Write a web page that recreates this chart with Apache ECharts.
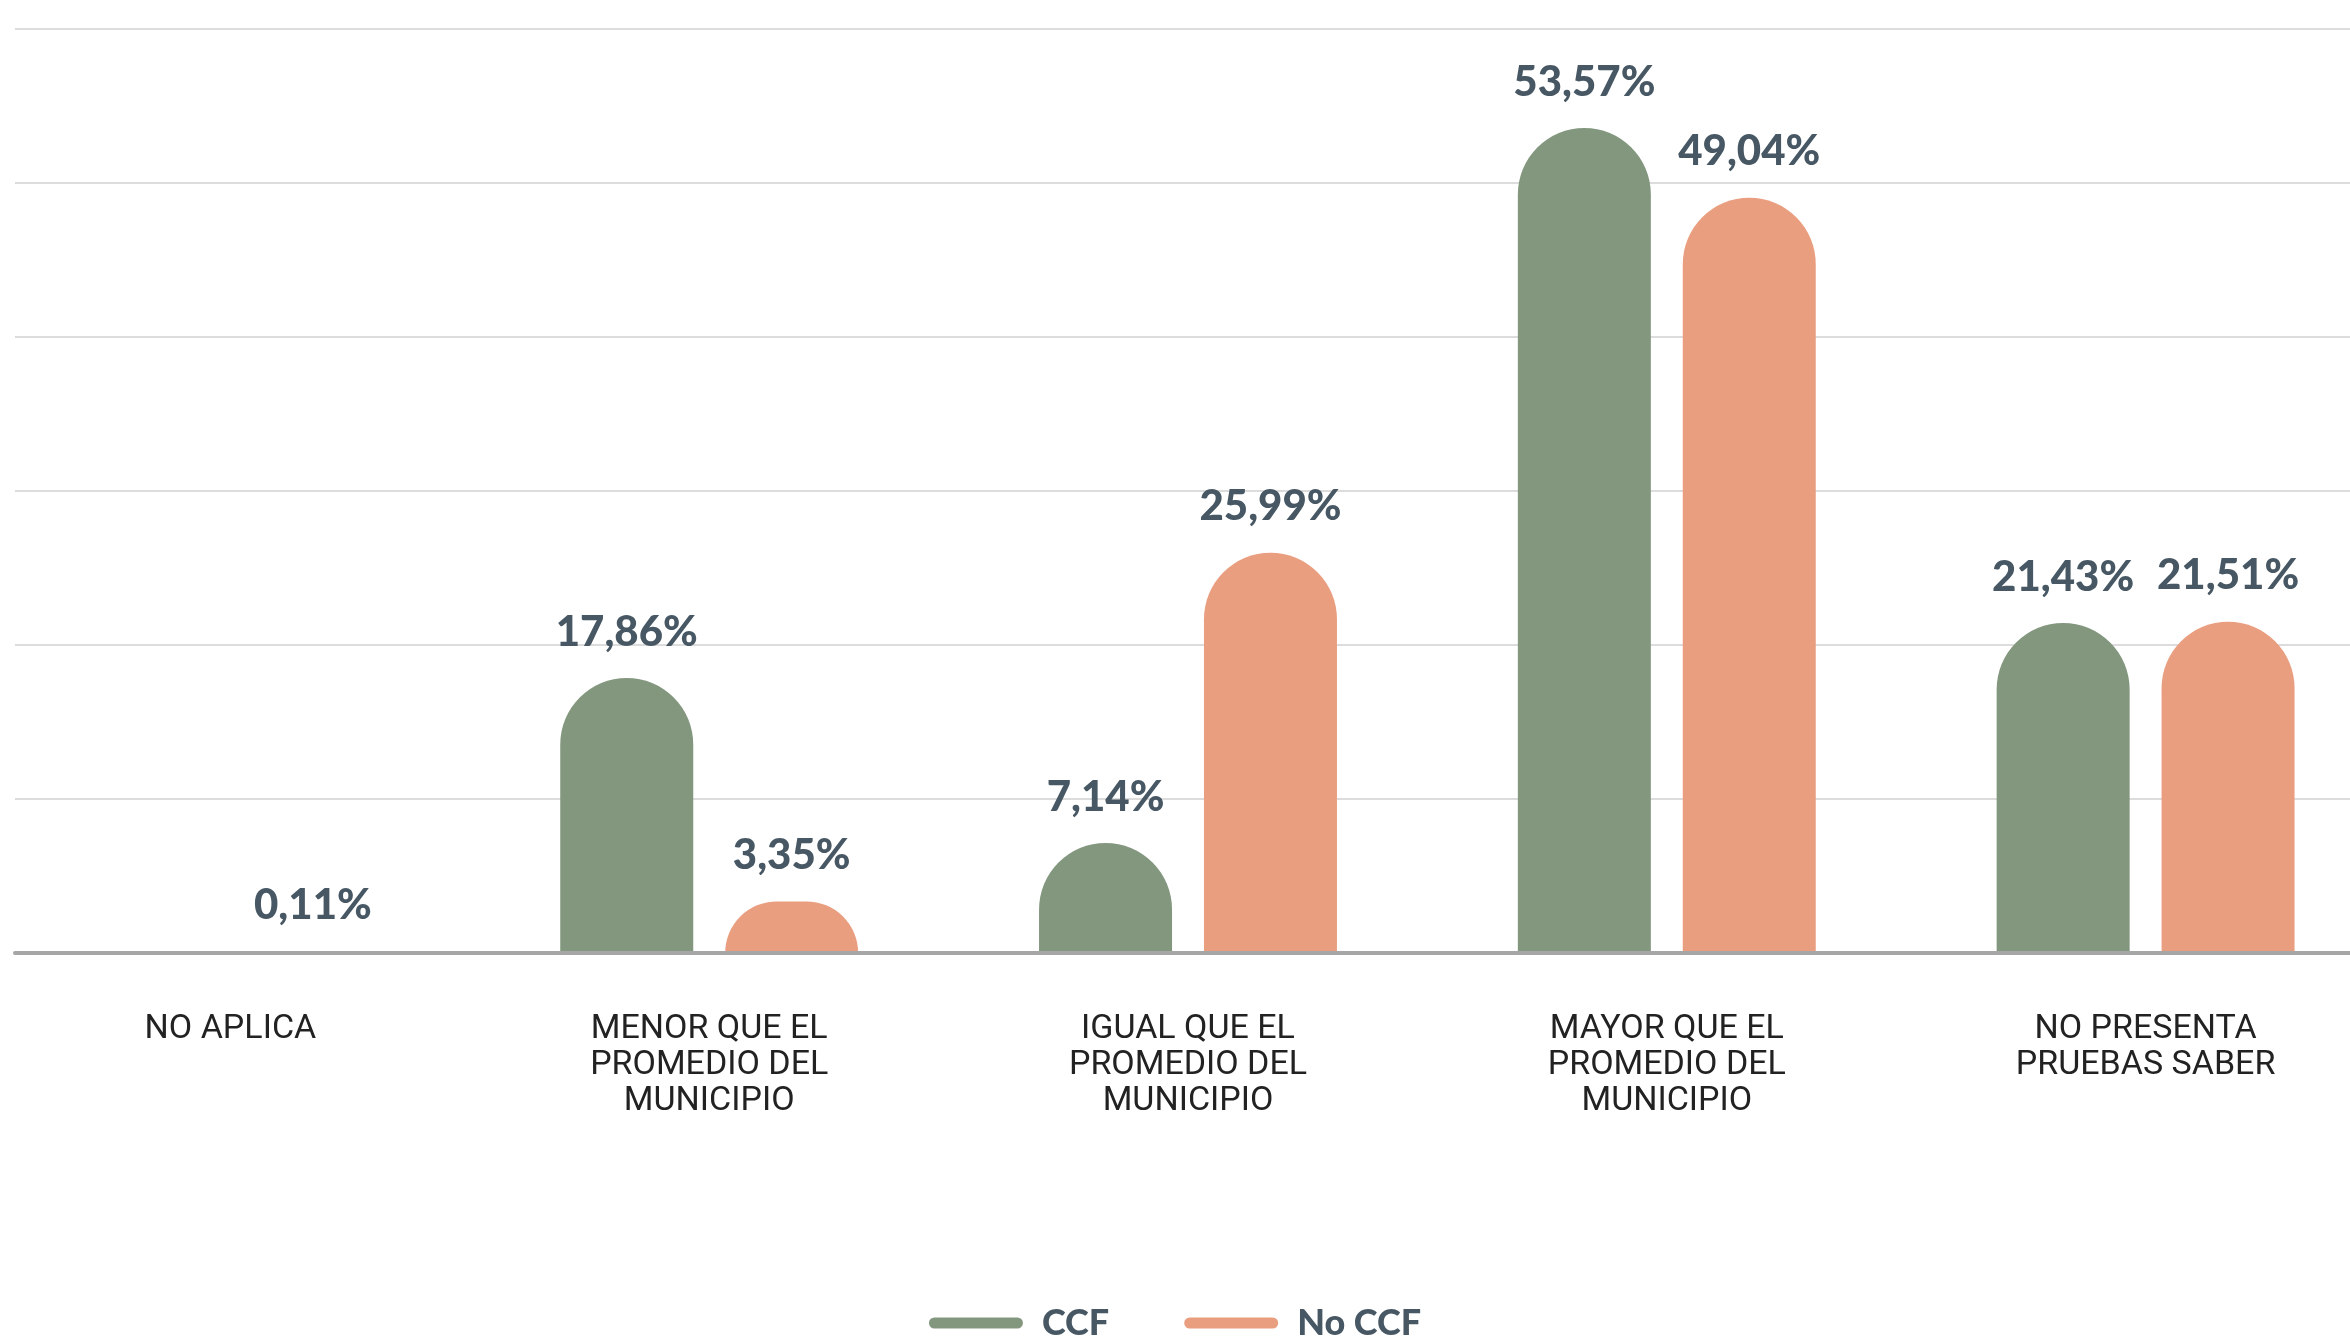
<!DOCTYPE html>
<html>
<head>
<meta charset="utf-8">
<script src="https://cdn.jsdelivr.net/npm/echarts@6/dist/echarts.min.js"></script>
<style>
  html, body { margin: 0; padding: 0; background: #fff; }
  #chart { width: 2350px; height: 1339px; }
</style>
</head>
<body>
<div id="chart"></div>
<script>
// datos del gráfico
const categorias = [
  'NO APLICA',
  'MENOR QUE EL\nPROMEDIO DEL\nMUNICIPIO',
  'IGUAL QUE EL\nPROMEDIO DEL\nMUNICIPIO',
  'MAYOR QUE EL\nPROMEDIO DEL\nMUNICIPIO',
  'NO PRESENTA\nPRUEBAS SABER'
]
const ccf = [0, 17.86, 7.14, 53.57, 21.43]
const noCcf = [0.11, 3.35, 25.99, 49.04, 21.51]
const yTicks = [0, 10, 20, 30, 40, 50, 60]

const verde = '#83977f'
const naranja = '#ea9e80'
const textoOscuro = '#475864'

const myChart = echarts.init(document.getElementById('chart'))

const etiqueta = {
  show: true,
  position: 'top',
  distance: 25,
  fontFamily: 'Lato',
  fontWeight: 900,
  fontSize: 42,
  lineHeight: 42,
  color: textoOscuro,
  formatter: p => p.value ? p.value.toFixed(2).replace('.', ',') + '%' : ''
}

myChart.setOption({
  backgroundColor: '#fff',
  animation: false,
  legend: {
    left: 'center',
    top: 1300,
    itemWidth: 94,
    itemHeight: 11,
    itemGap: 75,
    icon: 'path://M5.5,0H88.5A5.5,5.5,0,0,1,88.5,11H5.5A5.5,5.5,0,0,1,5.5,0Z',
    textStyle: {
      fontFamily: 'Lato',
      fontWeight: 900,
      fontSize: 36,
      lineHeight: 36,
      color: textoOscuro,
      padding: [0, 0, 0, 14]
    },
    data: ['CCF', 'No CCF']
  },
  grid: [
    // barras (la imagen original se sale un poco por los lados)
    {left: -9, width: 2394, top: 29, bottom: 386, outerBoundsMode: 'none'},
    // líneas de fondo
    {left: 15, right: 0, top: 29, bottom: 386, outerBoundsMode: 'none'}
  ],
  xAxis: [{
    type: 'category',
    gridIndex: 0,
    data: categorias,
    axisLine: {show: false},
    axisTick: {show: false},
    axisLabel: {
      margin: 58,
      fontFamily: 'Roboto',
      fontSize: 34,
      lineHeight: 36,
      color: '#222',
      interval: 0
    }
  }, {
    type: 'category',
    gridIndex: 1,
    z: 5,
    data: [''],
    axisLine: {show: true, lineStyle: {color: '#a6a6a6', width: 4}},
    axisTick: {show: false},
    axisLabel: {show: false}
  }],
  yAxis: [{
    type: 'value',
    gridIndex: 0,
    min: yTicks[0],
    max: yTicks[yTicks.length - 1],
    interval: 10,
    show: false
  }, {
    type: 'value',
    gridIndex: 1,
    min: yTicks[0],
    max: yTicks[yTicks.length - 1],
    interval: 10,
    axisLine: {show: false},
    axisTick: {show: false},
    axisLabel: {show: false},
    splitLine: {lineStyle: {color: '#dcdcdc', width: 2}}
  }],
  series: [{
    name: 'CCF',
    type: 'bar',
    xAxisIndex: 0,
    yAxisIndex: 0,
    barWidth: 133,
    barGap: '24%',
    itemStyle: {color: verde, borderRadius: [66.5, 66.5, 0, 0]},
    label: etiqueta,
    data: ccf
  }, {
    name: 'No CCF',
    type: 'bar',
    xAxisIndex: 0,
    yAxisIndex: 0,
    barWidth: 133,
    barGap: '24%',
    itemStyle: {color: naranja, borderRadius: [66.5, 66.5, 0, 0]},
    label: etiqueta,
    data: noCcf
  }]
})
</script>
</body>
</html>
